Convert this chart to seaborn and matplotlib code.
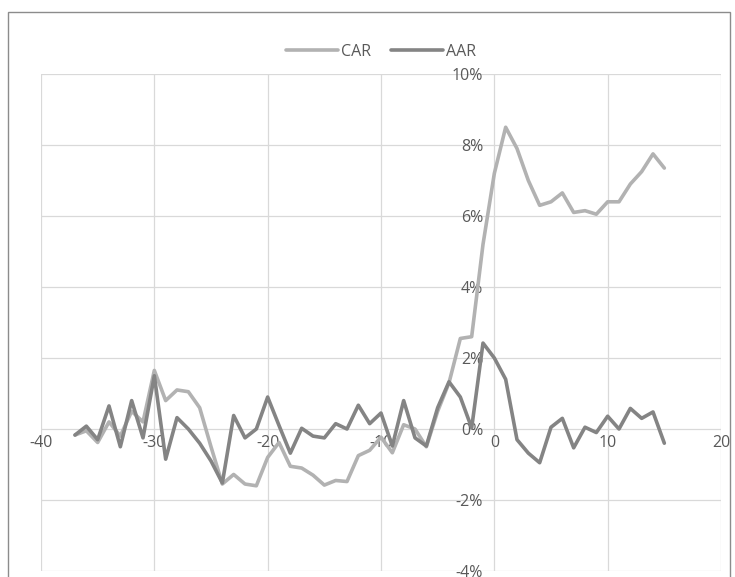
import pandas as pd
import matplotlib
matplotlib.use("Agg")
import matplotlib.pyplot as plt
import seaborn as sns
from matplotlib.patches import Rectangle
from matplotlib.ticker import FuncFormatter

# event days
days = list(range(-37, 16))

# cumulative abnormal return (%)
car = [-0.17, -0.05, -0.38, 0.2, -0.2, 0.5, 0.2, 1.65, 0.8, 1.1,
       1.05, 0.6, -0.5, -1.55, -1.28, -1.55, -1.6, -0.8, -0.38, -1.05,
       -1.1, -1.3, -1.58, -1.45, -1.48, -0.75, -0.6, -0.23, -0.67, 0.12,
       0.0, -0.5, 0.5, 1.3, 2.55, 2.6, 5.2, 7.2, 8.5, 7.9,
       7.0, 6.3, 6.4, 6.65, 6.1, 6.15, 6.05, 6.4, 6.4, 6.9,
       7.25, 7.75, 7.35]

# average abnormal return (%)
aar = [-0.17, 0.08, -0.3, 0.65, -0.5, 0.8, -0.25, 1.5, -0.85, 0.32,
       0.0, -0.4, -0.9, -1.52, 0.38, -0.25, 0.0, 0.9, 0.1, -0.68,
       0.02, -0.2, -0.25, 0.15, 0.0, 0.67, 0.15, 0.45, -0.48, 0.8,
       -0.25, -0.48, 0.6, 1.33, 0.9, 0.03, 2.42, 2.0, 1.4, -0.3,
       -0.68, -0.95, 0.05, 0.3, -0.53, 0.05, -0.1, 0.36, 0.0, 0.58,
       0.3, 0.48, -0.4]

df = pd.DataFrame({"day": days * 2,
                   "value": [v / 100 for v in car + aar],
                   "series": ["CAR"] * len(days) + ["AAR"] * len(days)})

sns.set_style("white")
plt.rcParams["font.family"] = ["Open Sans", "DejaVu Sans"]
plt.rcParams["axes.unicode_minus"] = False

fig = plt.figure(figsize=(7.35, 5.77), dpi=100)
ax = fig.add_axes([41 / 735, 1 - 571 / 577, 680 / 735, 497 / 577])

sns.lineplot(data=df, x="day", y="value", hue="series",
             palette={"CAR": "#b2b2b2", "AAR": "#848484"},
             linewidth=2.6, ax=ax, legend=True, sort=False)
for ln in ax.lines:
    ln.set_solid_joinstyle("round")
    ln.set_solid_capstyle("round")

ax.set_xlim(-40, 20)
ax.set_ylim(-0.04, 0.10)
ax.set_xticks(range(-40, 21, 10))
ax.set_yticks([i / 100 for i in range(-4, 11, 2)])
ax.yaxis.set_major_formatter(FuncFormatter(lambda v, p: f"{v * 100:.0f}%"))
ax.grid(True, color="#d9d9d9", linewidth=0.9)
ax.set_axisbelow(True)
ax.set_xlabel("")
ax.set_ylabel("")

for s in ["top", "right"]:
    ax.spines[s].set_visible(False)
ax.spines["bottom"].set_position(("data", 0))
ax.spines["left"].set_position(("data", 0))
ax.spines["bottom"].set_color("none")
ax.spines["left"].set_color("none")
ax.tick_params(axis="both", length=0, labelsize=11.5, colors="#595959")
ax.tick_params(axis="x", pad=4)
ax.tick_params(axis="y", pad=8)
for lbl in ax.get_xticklabels() + ax.get_yticklabels():
    lbl.set_clip_on(False)

leg = ax.legend(loc="lower center", bbox_to_anchor=(0.5, 1.0), ncol=2,
                frameon=False, fontsize=11.5, handlelength=3.3,
                handletextpad=0.2, columnspacing=1.2, borderaxespad=0.5)
for t in leg.get_texts():
    t.set_color("#595959")

# chart area frame
fig.patches.append(Rectangle((8 / 735, -0.05), 722 / 735, 1 - 12 / 577 + 0.05,
                             transform=fig.transFigure, fill=False,
                             edgecolor="#8c8c8c", linewidth=1.0))

fig.savefig("out.png", dpi=100)
